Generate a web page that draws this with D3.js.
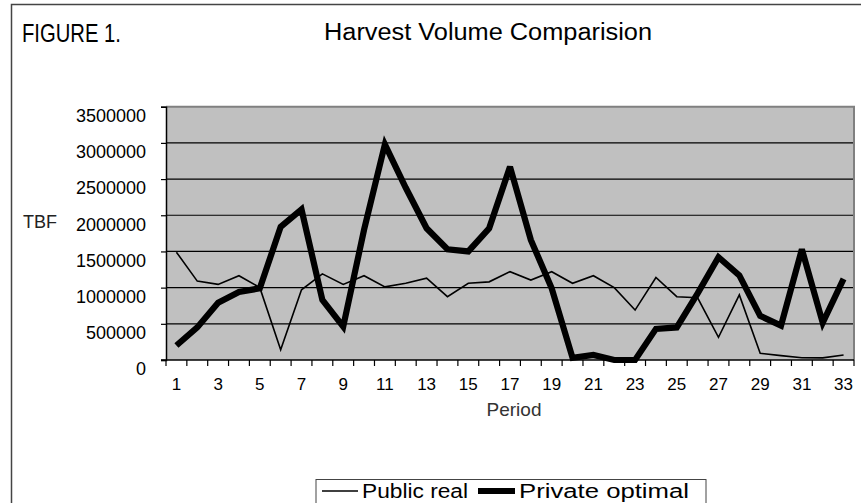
<!DOCTYPE html>
<html>
<head>
<meta charset="utf-8">
<script src="https://cdn.jsdelivr.net/npm/d3@7"></script>
<style>
  html, body { margin: 0; padding: 0; background: #fff; }
  svg { display: block; font-family: "Liberation Sans", Arial, Helvetica, sans-serif; }
</style>
</head>
<body>
<svg id="chart" width="861" height="503"></svg>
<script>
// ---- data ----
const periods = d3.range(1, 34);
const publicReal = [1490000, 1090000, 1045000, 1165000, 1000000, 140000, 970000, 1190000, 1045000, 1165000,
  1010000, 1060000, 1130000, 875000, 1060000, 1080000, 1220000, 1105000, 1220000, 1060000,
  1165000, 1000000, 690000, 1140000, 875000, 860000, 313000, 900000, 92000, 60000,
  32000, 30000, 70000];
const privateOptimal = [200000, 450000, 790000, 940000, 990000, 1840000, 2080000, 830000, 460000, 1800000,
  2980000, 2380000, 1820000, 1530000, 1500000, 1820000, 2670000, 1660000, 990000, 30000,
  70000, 0, 0, 430000, 450000, 920000, 1420000, 1170000, 610000, 475000,
  1530000, 515000, 1120000];
const yTicks = [0, 500000, 1000000, 1500000, 2000000, 2500000, 3000000, 3500000];
const xTickLabels = periods.filter(p => p % 2 === 1);
const seriesNames = ["Public real", "Private optimal"];

// ---- layout ----
const svg = d3.select("#chart");
const plot = { left: 166, right: 854, top: 106.7, bottom: 360 };

// outer frame
svg.append("rect").attr("x", 11.5).attr("y", 4.5).attr("width", 900).attr("height", 600)
  .attr("fill", "none").attr("stroke", "#444").attr("stroke-width", 1.5);

const x = d3.scaleBand().domain(periods).range([plot.left, plot.right]).padding(0);
const y = d3.scaleLinear().domain([0, 3500000]).range([plot.bottom, plot.top]);

// plot background
svg.append("rect").attr("x", plot.left).attr("y", plot.top)
  .attr("width", plot.right - plot.left).attr("height", plot.bottom - plot.top)
  .attr("fill", "#c0c0c0");

// gridlines
svg.append("g").selectAll("line").data(yTicks.filter(v => v > 0 && v < 3500000)).join("line")
  .attr("x1", plot.left).attr("x2", plot.right)
  .attr("y1", d => y(d)).attr("y2", d => y(d))
  .attr("stroke", "#000").attr("stroke-width", 1.2);

// top/right border (gray)
svg.append("path")
  .attr("d", `M${plot.left},${plot.top}H${plot.right}V${plot.bottom}`)
  .attr("fill", "none").attr("stroke", "#808080").attr("stroke-width", 2);

// y axis
const yAxis = svg.append("g").attr("transform", `translate(${plot.left},0)`)
  .call(d3.axisLeft(y).tickValues(yTicks).tickSize(5).tickPadding(15).tickFormat(d3.format("d")));
yAxis.select(".domain").attr("stroke", "#000").attr("stroke-width", 1.5);
yAxis.selectAll(".tick line").attr("stroke", "#000").attr("stroke-width", 1.2);
yAxis.selectAll("text").attr("font-size", 18).attr("fill", "#000")
  .attr("font-family", "'Liberation Sans', Arial, sans-serif").attr("y", 9);

// x axis: boundary ticks
const boundaries = periods.map(p => x(p)).concat([plot.right]);
svg.append("g").selectAll("line").data(boundaries).join("line")
  .attr("x1", d => d).attr("x2", d => d)
  .attr("y1", plot.bottom).attr("y2", plot.bottom + 6)
  .attr("stroke", "#000").attr("stroke-width", 1.2);
svg.append("line").attr("x1", plot.left - 5).attr("x2", plot.right)
  .attr("y1", plot.bottom).attr("y2", plot.bottom)
  .attr("stroke", "#000").attr("stroke-width", 1.5);

const xAxis = svg.append("g").attr("transform", `translate(0,${plot.bottom})`)
  .call(d3.axisBottom(x).tickValues(xTickLabels).tickSize(0).tickPadding(18));
xAxis.select(".domain").remove();
xAxis.selectAll("text").attr("font-size", 17).attr("fill", "#000")
  .attr("font-family", "'Liberation Sans', Arial, sans-serif");

// lines
const cx = p => x(p) + x.bandwidth() / 2;
const line = d3.line().x((d, i) => cx(periods[i])).y(d => y(d));
svg.append("path").datum(publicReal).attr("d", line)
  .attr("fill", "none").attr("stroke", "#000").attr("stroke-width", 1.6)
  .attr("stroke-linejoin", "miter");
svg.append("path").datum(privateOptimal).attr("d", line)
  .attr("fill", "none").attr("stroke", "#000").attr("stroke-width", 6.2)
  .attr("stroke-linejoin", "miter").attr("stroke-miterlimit", 3);

// texts
svg.append("text").attr("x", 22).attr("y", 42).attr("font-size", 26).attr("fill", "#000")
  .attr("textLength", 99).attr("lengthAdjust", "spacingAndGlyphs")
  .text("FIGURE 1.");
svg.append("text").attr("x", 324).attr("y", 40)
  .attr("font-size", 23).attr("fill", "#000")
  .attr("textLength", 328).attr("lengthAdjust", "spacingAndGlyphs")
  .text("Harvest Volume Comparision");
svg.append("text").attr("x", 23).attr("y", 228).attr("font-size", 18).attr("fill", "#222")
  .text("TBF");
svg.append("text").attr("x", 514).attr("y", 416).attr("text-anchor", "middle")
  .attr("font-size", 19).attr("fill", "#333").text("Period");

// legend
const lg = svg.append("g");
lg.append("rect").attr("x", 316).attr("y", 479.5).attr("width", 390).attr("height", 60)
  .attr("fill", "#fff").attr("stroke", "#444").attr("stroke-width", 1);
const legendItems = [
  { name: seriesNames[0], x1: 322, x2: 358, tx: 362, tl: 106, w: 1.6 },
  { name: seriesNames[1], x1: 478, x2: 515, tx: 519, tl: 170, w: 6 }
];
legendItems.forEach(it => {
  lg.append("line").attr("x1", it.x1).attr("x2", it.x2).attr("y1", 491).attr("y2", 491)
    .attr("stroke", "#000").attr("stroke-width", it.w);
  lg.append("text").attr("x", it.tx).attr("y", 498).attr("font-size", 20).attr("fill", "#000")
    .attr("textLength", it.tl).attr("lengthAdjust", "spacingAndGlyphs")
    .text(it.name);
});
</script>
</body>
</html>
